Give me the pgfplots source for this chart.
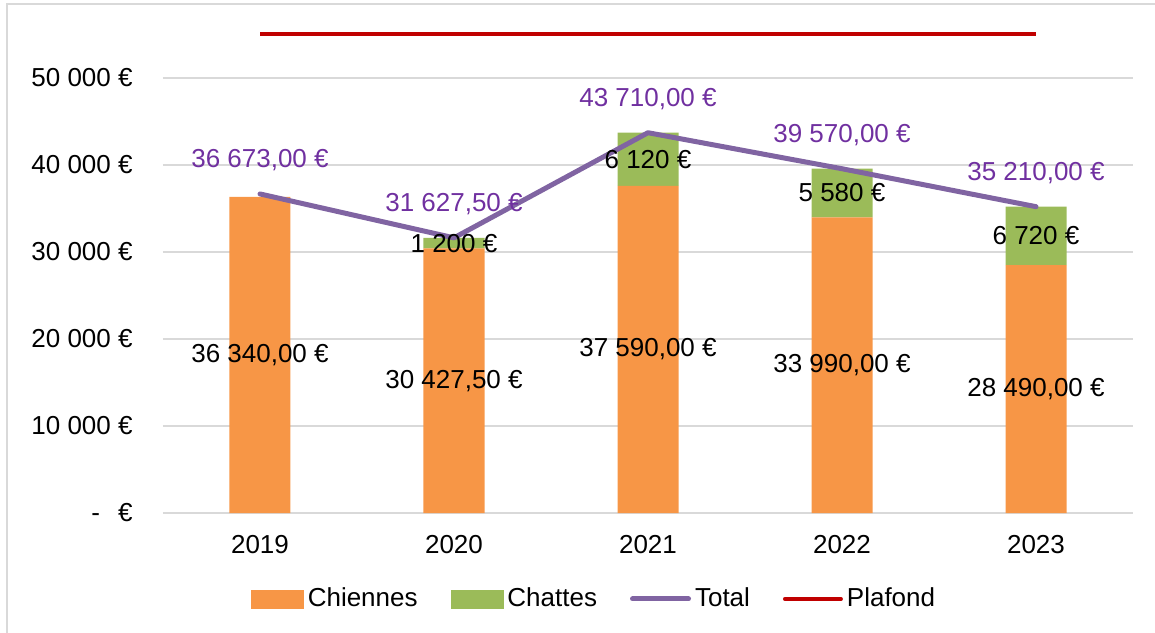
\documentclass[border=0pt]{standalone}
\usepackage{pgfplots}
\pgfplotsset{compat=1.18}
\usepackage{pgfplotstable}
\usepackage{fontspec}
\setmainfont{Liberation Sans}
\definecolor{chiennes}{HTML}{F79646}
\definecolor{chattes}{HTML}{9BBB59}
\definecolor{totalc}{HTML}{8064A2}
\definecolor{totaltxt}{HTML}{7030A0}
\definecolor{plafond}{HTML}{C00000}
\definecolor{gridc}{HTML}{D9D9D9}

\pgfplotstableread{
x chiennes chattes total plafond
0 36340 0 36673 55000
1 30427.5 1200 31627.5 55000
2 37590 6120 43710 55000
3 33990 5580 39570 55000
4 28490 6720 35210 55000
}\data
\pgfplotstablecreatecol[create col/expr={\thisrow{chiennes}/2}]{midA}{\data}
\pgfplotstablecreatecol[create col/expr={\thisrow{chiennes}+\thisrow{chattes}/2}]{midB}{\data}

\newcommand{\lblfont}{\fontsize{13bp}{15bp}\selectfont}

\pgfplotsset{
  common/.style={
    at={(0,0)}, anchor=south west,
    scale only axis, width=485bp, height=252.3bp,
    xmin=-0.5, xmax=4.5, ymin=0, ymax=58000,
    clip=false,
    /pgf/number format/assume math mode=true,
  }
}

\begin{document}
\begin{tikzpicture}
\useasboundingbox (-81.5bp,-60bp) rectangle (496bp,256.5bp);
\draw[gridc, line width=1bp] (-78bp,-62bp) -- (-78bp,254.5bp) -- (498bp,254.5bp);
\begin{axis}[
  common,
  ybar stacked, bar width=30.5bp,
  axis line style={draw=none},
  major tick length=0pt,
  ymajorgrids, grid style={gridc, line width=0.8bp},
  ytick={0,10000,20000,30000,40000,50000},
  yticklabels={{-\hspace{0.7em}€},{10 000 €},{20 000 €},{30 000 €},{40 000 €},{50 000 €}},
  xtick={0,1,2,3,4}, xticklabels={2019,2020,2021,2022,2023},
  tick label style={font=\lblfont},
  yticklabel style={anchor=east, inner sep=0pt, xshift=-15bp},
  xticklabel style={anchor=center, inner sep=0pt, yshift=-16bp},
]
\addplot[fill=chiennes, draw=none] table[x=x, y=chiennes] {\data};
\addplot[fill=chattes, draw=none] table[x=x, y=chattes] {\data};
\end{axis}
\begin{axis}[
  common,
  hide axis,
  legend columns=4,
  legend style={at={(0.0907,-0.1704)}, anchor=west, draw=none, fill=none,
    inner sep=0pt, outer sep=0pt, font=\lblfont,
    /tikz/every even column/.append style={column sep=14.5bp},
    nodes={inner sep=2bp}},
]
\addlegendimage{legend image code/.code={\fill[chiennes] (0bp,-4.5bp) rectangle (26bp,4.5bp);}}
\addlegendentry{Chiennes}
\addlegendimage{legend image code/.code={\fill[chattes] (0bp,-4.5bp) rectangle (26bp,4.5bp);}}
\addlegendentry{Chattes}
\addplot[sharp plot, draw=totalc, line width=2.5bp, line cap=round, line join=round, mark=none,
  legend image code/.code={\draw[totalc, line width=2.5bp, line cap=round] (0bp,0bp) -- (28bp,0bp);},
  nodes near coords={\pgfmathprintnumber[fixed, fixed zerofill, precision=2, use comma, 1000 sep={\ }]{\pgfplotspointmeta}\ €},
  point meta=\thisrow{total},
  every node near coord/.append style={anchor=center, yshift=17bp, text=totaltxt, font=\lblfont, inner sep=0pt}]
  table[x=x, y=total] {\data};
\addlegendentry{Total}
\addplot[sharp plot, draw=plafond, line width=2bp, mark=none,
  legend image code/.code={\draw[plafond, line width=2bp, line cap=round] (0bp,0bp) -- (28bp,0bp);}]
  table[x=x, y=plafond] {\data};
\addlegendentry{Plafond}
% labels
\addplot[forget plot, sharp plot, draw=none, mark=none,
  nodes near coords={\pgfmathprintnumber[fixed, fixed zerofill, precision=2, use comma, 1000 sep={\ }]{\pgfplotspointmeta}\ €},
  point meta=\thisrow{chiennes},
  every node near coord/.append style={anchor=center, text=black, font=\lblfont, inner sep=0pt}]
  table[x=x, y=midA] {\data};
\addplot[forget plot, sharp plot, draw=none, mark=none,
  nodes near coords={\pgfmathfloatifflags{\pgfplotspointmeta}{0}{}{\pgfmathprintnumber[fixed, precision=0, 1000 sep={\ }]{\pgfplotspointmeta}\ €}},
  point meta=\thisrow{chattes},
  every node near coord/.append style={anchor=center, text=black, font=\lblfont, inner sep=0pt}]
  table[x=x, y=midB] {\data};
\end{axis}
\end{tikzpicture}
\end{document}
